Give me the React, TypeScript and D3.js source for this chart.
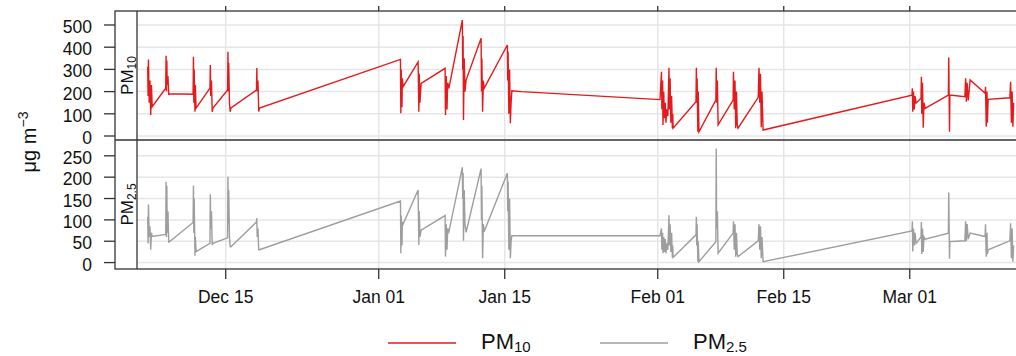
import React from 'react';
import * as d3 from 'd3';

// hourly readings (UTC), both instruments share the timestamps
const times = [
  '2017-12-06 08:00', '2017-12-06 09:00', '2017-12-06 10:00', '2017-12-06 12:00', '2017-12-06 14:00', '2017-12-06 16:00', '2017-12-06 18:00', '2017-12-06 20:00',
  '2017-12-08 08:00', '2017-12-08 09:00', '2017-12-08 10:00', '2017-12-08 11:00', '2017-12-08 12:00', '2017-12-08 14:00', '2017-12-08 16:00', '2017-12-08 17:00',
  '2017-12-11 09:00', '2017-12-11 10:00', '2017-12-11 11:00', '2017-12-11 12:00', '2017-12-11 14:00', '2017-12-11 15:00', '2017-12-11 17:00',
  '2017-12-13 06:00', '2017-12-13 07:00', '2017-12-13 08:00', '2017-12-13 10:00', '2017-12-13 12:00', '2017-12-13 14:00',
  '2017-12-15 05:00', '2017-12-15 06:00', '2017-12-15 07:00', '2017-12-15 08:00', '2017-12-15 10:00', '2017-12-15 12:00', '2017-12-15 14:00',
  '2017-12-18 10:00', '2017-12-18 11:00', '2017-12-18 12:00', '2017-12-18 14:00', '2017-12-18 16:00', '2017-12-18 18:00',
  '2018-01-03 10:00', '2018-01-03 11:00', '2018-01-03 12:00', '2018-01-03 14:00', '2018-01-03 15:00', '2018-01-03 17:00',
  '2018-01-05 09:00', '2018-01-05 11:00', '2018-01-05 12:00', '2018-01-05 14:00', '2018-01-05 17:00',
  '2018-01-08 09:00', '2018-01-08 10:00', '2018-01-08 12:00', '2018-01-08 14:00', '2018-01-08 16:00', '2018-01-08 19:00',
  '2018-01-10 07:00', '2018-01-10 08:00', '2018-01-10 09:00', '2018-01-10 10:00', '2018-01-10 12:00', '2018-01-10 14:00', '2018-01-10 17:00',
  '2018-01-12 09:00', '2018-01-12 10:00', '2018-01-12 11:00', '2018-01-12 13:00', '2018-01-12 15:00', '2018-01-12 17:00',
  '2018-01-15 07:00', '2018-01-15 08:00', '2018-01-15 09:00', '2018-01-15 11:00', '2018-01-15 13:00', '2018-01-15 15:00', '2018-01-15 17:00', '2018-01-15 19:00',
  '2018-01-16 21:00', '2018-01-31 08:00',
  '2018-02-01 06:00', '2018-02-01 10:00', '2018-02-01 11:00', '2018-02-01 13:00', '2018-02-01 14:00', '2018-02-01 16:00', '2018-02-01 18:00', '2018-02-01 20:00', '2018-02-01 22:00',
  '2018-02-02 00:00', '2018-02-02 03:00', '2018-02-02 06:00', '2018-02-02 07:00', '2018-02-02 09:00', '2018-02-02 11:00', '2018-02-02 13:00', '2018-02-02 15:00', '2018-02-02 16:00', '2018-02-02 17:00',
  '2018-02-05 06:00', '2018-02-05 07:00', '2018-02-05 08:00', '2018-02-05 09:00', '2018-02-05 11:00', '2018-02-05 12:00', '2018-02-05 14:00',
  '2018-02-07 11:00', '2018-02-07 12:00', '2018-02-07 13:00', '2018-02-07 15:00', '2018-02-07 17:00',
  '2018-02-09 09:00', '2018-02-09 10:00', '2018-02-09 12:00', '2018-02-09 14:00', '2018-02-09 16:00', '2018-02-09 18:00', '2018-02-09 20:00', '2018-02-09 22:00',
  '2018-02-12 04:00', '2018-02-12 06:00', '2018-02-12 08:00', '2018-02-12 10:00', '2018-02-12 12:00', '2018-02-12 14:00', '2018-02-12 17:00',
  '2018-03-01 06:00', '2018-03-01 07:00', '2018-03-01 08:00', '2018-03-01 10:00', '2018-03-01 12:00', '2018-03-01 14:00', '2018-03-01 17:00',
  '2018-03-02 06:00', '2018-03-02 07:00', '2018-03-02 08:00', '2018-03-02 10:00', '2018-03-02 12:00', '2018-03-02 14:00', '2018-03-02 17:00',
  '2018-03-05 07:00', '2018-03-05 08:00', '2018-03-05 10:00', '2018-03-05 11:00',
  '2018-03-07 03:00', '2018-03-07 05:00', '2018-03-07 07:00', '2018-03-07 09:00', '2018-03-07 12:00', '2018-03-07 17:00',
  '2018-03-09 09:00', '2018-03-09 10:00', '2018-03-09 12:00', '2018-03-09 14:00', '2018-03-09 15:00', '2018-03-09 17:00',
  '2018-03-12 03:00', '2018-03-12 05:00', '2018-03-12 07:00', '2018-03-12 09:00', '2018-03-12 11:00', '2018-03-12 13:00',
];

const pm10 = [
  312, 180, 345, 150, 250, 95, 230, 132,
  215, 361, 200, 340, 230, 270, 185, 190,
  188, 357, 150, 300, 109, 230, 126,
  216, 320, 180, 250, 109, 126,
  207, 379, 200, 330, 150, 109, 126,
  207, 306, 200, 250, 110, 126,
  345, 102, 300, 130, 260, 222,
  334, 109, 280, 150, 237,
  305, 95, 270, 120, 240, 215,
  522, 300, 450, 72, 350, 200, 252,
  440, 200, 350, 109, 250, 215,
  410, 250, 380, 100, 300, 57, 150, 204,
  200, 166,
  164, 289, 120, 250, 50, 200, 80, 150, 60,
  120, 90, 307, 120, 260, 60, 180, 35, 100, 35,
  154, 307, 150, 260, 19, 200, 19,
  162, 307, 150, 250, 50,
  162, 289, 120, 250, 35, 200, 50, 35,
  174, 307, 150, 280, 40, 200, 27,
  184, 215, 109, 200, 120, 180, 148,
  170, 267, 100, 240, 37, 150, 124,
  184, 354, 19, 184,
  177, 260, 154, 240, 160, 252,
  192, 222, 42, 200, 60, 165,
  172, 244, 60, 200, 42, 150,
];

const pm25 = [
  107, 45, 136, 60, 85, 30, 70, 61,
  66, 189, 60, 180, 70, 120, 48, 48,
  94, 180, 70, 150, 16, 60, 26,
  45, 160, 80, 120, 41, 45,
  58, 201, 90, 170, 60, 37, 37,
  95, 104, 60, 80, 30, 30,
  144, 22, 110, 40, 95, 90,
  170, 41, 120, 60, 76,
  110, 14, 90, 30, 80, 72,
  223, 150, 210, 51, 170, 90, 71,
  220, 100, 180, 10, 90, 72,
  209, 120, 190, 30, 150, 10, 50, 63,
  63, 63,
  63, 80, 30, 70, 22, 60, 25, 55, 22,
  45, 30, 111, 40, 90, 25, 70, 12, 40, 12,
  65, 107, 40, 90, 2, 50, 2,
  49, 267, 80, 120, 22,
  69, 97, 30, 90, 14, 70, 20, 14,
  51, 90, 30, 85, 10, 60, 2,
  74, 97, 26, 80, 40, 70, 45,
  60, 95, 20, 80, 25, 60, 55,
  69, 164, 9, 49,
  51, 97, 50, 90, 55, 69,
  61, 90, 14, 70, 20, 30,
  51, 92, 10, 80, 2, 40,
];

const tickDates = ['2017-12-15', '2018-01-01', '2018-01-15', '2018-02-01', '2018-02-15', '2018-03-01'];

const W = 1016;
const H = 356;
const STRIP_L = 115;
const PANEL_L = 137;
const PANEL_R = 1017;
const TOP = 11;
const MID = 140;
const BOTTOM = 269;
const FONT = '"Liberation Sans", Arial, sans-serif';
const FRAME = '#333';

export default function App() {
  const parse = d3.utcParse('%Y-%m-%d %H:%M');
  const dates = times.map(t => parse(t) as Date);
  const ticks = tickDates.map(t => d3.utcParse('%Y-%m-%d')(t) as Date);
  const fmt = d3.utcFormat('%b %d');

  const x = d3.scaleUtc()
    .domain([new Date(Date.UTC(2017, 11, 5, 3, 27)), new Date(Date.UTC(2018, 2, 12, 14, 0))])
    .range([PANEL_L, 1014]);

  const panels = [
    { key: 'pm10', values: pm10, color: '#e41a1c', sub: '10',
      y: d3.scaleLinear().domain([-18, 563]).range([MID, TOP]), top: TOP, bottom: MID },
    { key: 'pm25', values: pm25, color: '#9e9e9e', sub: '2.5',
      y: d3.scaleLinear().domain([-15, 287]).range([BOTTOM, MID]), top: MID, bottom: BOTTOM },
  ];

  return (
    <svg width={W} height={H} style={{ position: 'absolute', left: 0, top: 0 }} fontFamily={FONT}>
      <rect width={W} height={H} fill="#fff" />

      {/* grid */}
      {ticks.map((t, i) => (
        <line key={'vg' + i} x1={x(t)} x2={x(t)} y1={TOP} y2={BOTTOM} stroke="#e6e6e6" strokeWidth={1.5} />
      ))}
      {panels.map(p => p.y.ticks(6).map(v => (
        <line key={p.key + 'hg' + v} x1={PANEL_L} x2={PANEL_R} y1={p.y(v)} y2={p.y(v)} stroke="#e6e6e6" strokeWidth={1.5} />
      )))}

      {/* series */}
      {panels.map(p => {
        const line = d3.line<number>()
          .x((_, i) => x(dates[i]))
          .y(v => p.y(v));
        return <path key={p.key} d={line(p.values) ?? ''} fill="none" stroke={p.color} strokeWidth={1.4} />;
      })}

      {/* frame */}
      <rect x={STRIP_L} y={TOP} width={PANEL_R - STRIP_L} height={BOTTOM - TOP} fill="none" stroke={FRAME} strokeWidth={1.3} />
      <line x1={PANEL_L} x2={PANEL_L} y1={TOP} y2={BOTTOM} stroke={FRAME} strokeWidth={1.3} />
      <line x1={STRIP_L} x2={PANEL_R} y1={MID} y2={MID} stroke={FRAME} strokeWidth={1.3} />

      {/* y axes */}
      {panels.map(p => p.y.ticks(6).map(v => (
        <g key={p.key + 'yt' + v}>
          <line x1={104} x2={STRIP_L} y1={p.y(v)} y2={p.y(v)} stroke={FRAME} strokeWidth={1.3} />
          <text x={92} y={p.y(v) + 8} textAnchor="end" fontSize={17.5} fill="#111">{v}</text>
        </g>
      )))}

      {/* x axis */}
      {ticks.map((t, i) => (
        <g key={'xt' + i}>
          <line x1={x(t)} x2={x(t)} y1={BOTTOM} y2={BOTTOM + 10} stroke={FRAME} strokeWidth={1.3} />
          <line x1={x(t)} x2={x(t)} y1={TOP - 5} y2={TOP} stroke={FRAME} strokeWidth={1.3} />
          <text x={x(t)} y={303} textAnchor="middle" fontSize={17.5} fill="#111">{fmt(t)}</text>
        </g>
      ))}

      {/* strips */}
      {panels.map(p => (
        <text key={p.key + 'strip'} transform={`translate(133,${(p.top + p.bottom) / 2}) rotate(-90)`}
          textAnchor="middle" fontSize={17} fill="#111">
          PM<tspan fontSize={12} dy={3}>{p.sub}</tspan>
        </text>
      ))}

      {/* y title */}
      <text transform={`translate(36,142) rotate(-90)`} textAnchor="middle" fontSize={20} fill="#111">
        μg m<tspan fontSize={14} dy={-8}>−3</tspan>
      </text>

      {/* legend */}
      <line x1={388} x2={456} y1={343} y2={343} stroke={panels[0].color} strokeWidth={1.3} />
      <text x={481} y={349} fontSize={22} fill="#111">PM<tspan fontSize={15} dy={3}>10</tspan></text>
      <line x1={600} x2={668} y1={343} y2={343} stroke={panels[1].color} strokeWidth={1.3} />
      <text x={693} y={349} fontSize={22} fill="#111">PM<tspan fontSize={15} dy={3}>2.5</tspan></text>
    </svg>
  );
}
